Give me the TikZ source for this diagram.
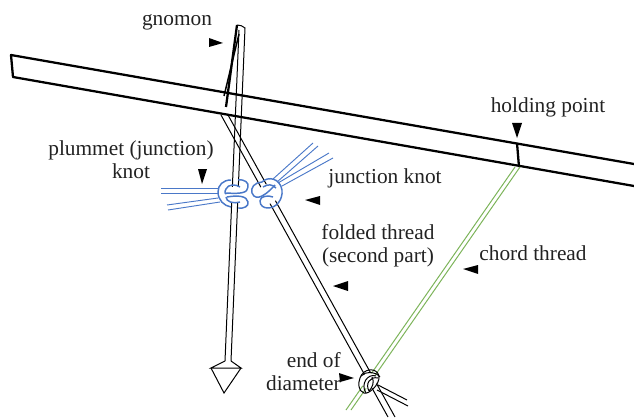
\documentclass[tikz,border=0pt]{standalone}
\usepackage{fontspec}
\setmainfont{Liberation Serif}
\definecolor{threadblue}{HTML}{4A78C8}
\definecolor{threadgreen}{HTML}{7DB45A}
\definecolor{labelgray}{HTML}{222222}
\tikzset{
  plank/.style={line width=1.7pt, line join=round},
  thread/.style={line width=0.75pt},
  knotline/.style={threadblue, line width=1.1pt},
  strand/.style={threadblue, line width=0.7pt},
  pointer/.style={fill=black, draw=none},
  label/.style={text=labelgray, font=\fontsize{16}{17.2}\selectfont, inner sep=0pt, align=center}
}
\begin{document}
\begin{tikzpicture}[x=0.75pt, y=-0.75pt]
  \useasboundingbox (0,0) rectangle (634,417);
  % plank
  \draw[plank] (634,164) -- (11,55) -- (13,77) -- (634,186);
  \draw[plank] (517,143) -- (519,167);
  % gnomon
  \draw[line width=1.7pt] (237,25) -- (226,107);
  \draw[line width=1.1pt] (239,34) -- (224,96);
  \draw[thread] (237,25) .. controls (240,25) and (243,26) .. (245,28) -- (231,361);
  \draw[thread] (239,30) -- (225,361);
  % plummet bob
  \draw[thread] (225,361) -- (211,368) -- (241,368) -- (231,361);
  \draw[thread] (211,368) -- (224,393) -- (241,368);
  % folded thread
  \draw[thread] (221,115) -- (388,417);
  \draw[thread] (228,115) -- (395,417);
  % chord thread
  \draw[thread, threadgreen] (515,167) -- (346,410);
  \draw[thread, threadgreen] (520,167) -- (351,410);
  % end of diameter
  \draw[thread] (378,385) -- (407,400);
  \draw[thread] (377,390) -- (408,406);
  \fill[white] (369,381) circle (8);
  \draw[thread] (360,378) .. controls (363,368) and (377,367) .. (379,376)
    .. controls (380,385) and (368,395) .. (364,393) .. controls (358,391) and (358,383) .. (360,378);
  \draw[thread] (366,393) .. controls (360,384) and (368,373) .. (376,376);
  \draw[thread] (369,391) .. controls (365,384) and (370,376) .. (378,378);
  \draw[thread] (372,377) .. controls (375,382) and (372,388) .. (369,391);
  \draw[thread] (361,376) .. controls (366,371) and (375,371) .. (380,377);
  % plummet knot strands
  \draw[strand] (161,188) -- (218,188);
  \draw[strand] (161,193) -- (218,193);
  \draw[strand] (167,205) -- (218,198);
  \draw[strand] (168,210) -- (220,202);
  % junction knot strands
  \draw[strand] (313,143) -- (273,179);
  \draw[strand] (318,146) -- (277,182);
  \draw[strand] (329,153) -- (278,183);
  \draw[strand] (333,158) -- (282,186);
  % plummet knot
  \fill[white] (226,187) rectangle (247,203);
  \draw[knotline] (231,180) .. controls (223,180) and (218,185) .. (218,192) .. controls (218,200) and (224,206) .. (231,207);
  \draw[knotline] (238,180) .. controls (245,179) and (249,183) .. (248,187) .. controls (248,193) and (240,194) .. (227,193);
  \draw[knotline] (240,187) .. controls (236,184) and (228,184) .. (226,189) .. controls (224,192) and (225,195) .. (227,193);
  \draw[knotline] (227,197) .. controls (238,195) and (247,196) .. (248,202) .. controls (249,206) and (244,209) .. (238,208);
  \draw[knotline] (226,197) .. controls (226,202) and (234,204) .. (240,202);
  % junction knot
  \fill[white] (268,194) circle (10);
  \draw[knotline] (262,182) .. controls (268,176) and (280,178) .. (282,190) .. controls (283,200) and (276,208) .. (268,208);
  \draw[knotline] (262,182) .. controls (255,182) and (250,188) .. (252,193) .. controls (254,198) and (258,198) .. (262,196)
    .. controls (268,193) and (272,188) .. (275,185);
  \draw[knotline] (273,197) .. controls (268,195) and (260,196) .. (260,201) .. controls (260,206) and (264,208) .. (268,208);
  \draw[knotline] (263,187) .. controls (268,184) and (272,184) .. (276,188);
  % pointers
  \fill[pointer] (209,38) -- (223,43) -- (209,47) -- cycle;
  \fill[pointer] (198,169) -- (207,169) -- (202,184) -- cycle;
  \fill[pointer] (320,196) -- (305,200) -- (320,205) -- cycle;
  \fill[pointer] (348,281) -- (333,286) -- (348,291) -- cycle;
  \fill[pointer] (478,265) -- (463,269) -- (478,274) -- cycle;
  \fill[pointer] (512,123) -- (522,123) -- (517,138) -- cycle;
  \fill[pointer] (339,373) -- (354,378) -- (340,382) -- cycle;
  % labels
  \node[label] (gnomon) at (177,22) {gnomon};
  \node[label] (holding) at (548,107) {holding point};
  \node[label] (plummet) at (131,160) {plummet (junction)\\knot};
  \node[label] (junction) at (385,178) {junction knot};
  \node[label] (folded) at (378,246) {folded thread\\(second part)};
  \node[label] (chord) at (533,253) {chord thread};
  \node[label, align=right, anchor=east] (diameter) at (341,372) {end of\\diameter};
\end{tikzpicture}
\end{document}
